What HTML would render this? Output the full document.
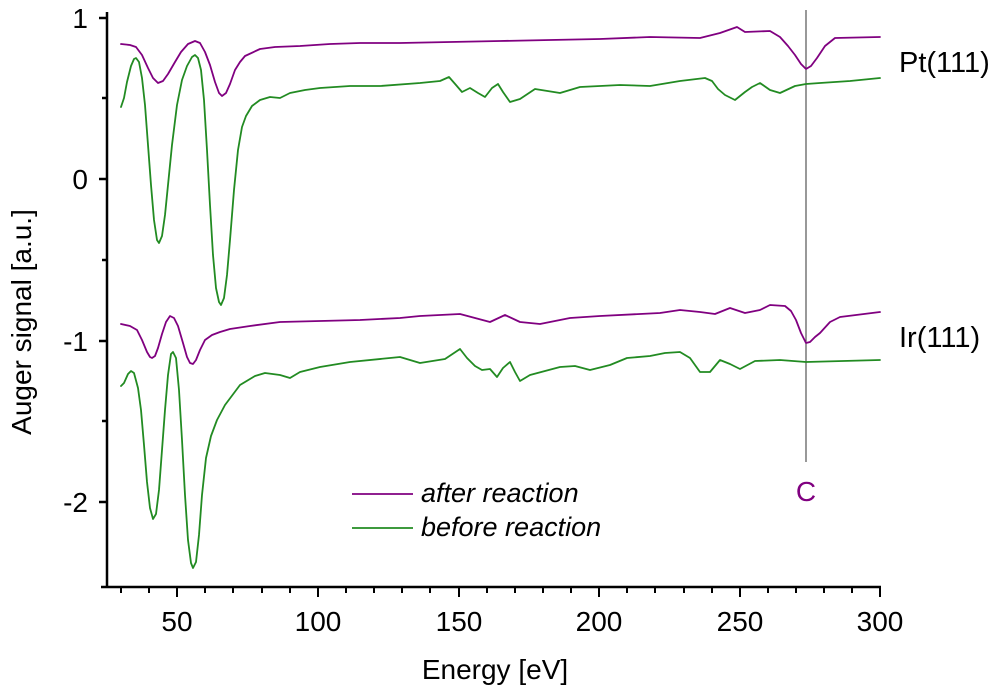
<!DOCTYPE html>
<html><head><meta charset="utf-8"><style>
body{margin:0;background:#fff;}
svg{display:block;font-family:"Liberation Sans",Arial,sans-serif;}
</style></head><body>
<svg width="1000" height="691" viewBox="0 0 1000 691">
<g stroke="#000" stroke-width="2.5" fill="none">
<line x1="107" y1="12" x2="107" y2="588"/>
<line x1="101" y1="587" x2="881" y2="587"/>
<line x1="99" y1="18" x2="107" y2="18"/><line x1="102" y1="98" x2="107" y2="98"/>
<line x1="99" y1="179" x2="107" y2="179"/><line x1="102" y1="260" x2="107" y2="260"/>
<line x1="99" y1="341" x2="107" y2="341"/><line x1="102" y1="421" x2="107" y2="421"/>
<line x1="99" y1="502" x2="107" y2="502"/>
</g>
<g stroke="#000" stroke-width="2">
<line x1="121" y1="587" x2="121" y2="593"/><line x1="149" y1="587" x2="149" y2="593"/>
<line x1="177" y1="587" x2="177" y2="597"/><line x1="205" y1="587" x2="205" y2="593"/>
<line x1="233" y1="587" x2="233" y2="593"/><line x1="262" y1="587" x2="262" y2="593"/>
<line x1="290" y1="587" x2="290" y2="593"/><line x1="318" y1="587" x2="318" y2="597"/>
<line x1="346" y1="587" x2="346" y2="593"/><line x1="374" y1="587" x2="374" y2="593"/>
<line x1="402" y1="587" x2="402" y2="593"/><line x1="430" y1="587" x2="430" y2="593"/>
<line x1="459" y1="587" x2="459" y2="597"/><line x1="487" y1="587" x2="487" y2="593"/>
<line x1="515" y1="587" x2="515" y2="593"/><line x1="543" y1="587" x2="543" y2="593"/>
<line x1="571" y1="587" x2="571" y2="593"/><line x1="599" y1="587" x2="599" y2="597"/>
<line x1="627" y1="587" x2="627" y2="593"/><line x1="655" y1="587" x2="655" y2="593"/>
<line x1="684" y1="587" x2="684" y2="593"/><line x1="712" y1="587" x2="712" y2="593"/>
<line x1="740" y1="587" x2="740" y2="597"/><line x1="768" y1="587" x2="768" y2="593"/>
<line x1="796" y1="587" x2="796" y2="593"/><line x1="824" y1="587" x2="824" y2="593"/>
<line x1="852" y1="587" x2="852" y2="593"/><line x1="880" y1="587" x2="880" y2="597"/>
</g>
<g font-size="28" fill="#000" text-anchor="middle">
<text x="177" y="631">50</text><text x="318" y="631">100</text><text x="459" y="631">150</text>
<text x="599" y="631">200</text><text x="740" y="631">250</text><text x="880" y="631">300</text>
<text x="495" y="679">Energy [eV]</text>
</g>
<g font-size="28" fill="#000" text-anchor="end">
<text x="88" y="28">1</text><text x="88" y="189">0</text><text x="88" y="351">-1</text><text x="88" y="512">-2</text>
</g>
<text transform="translate(31,322) rotate(-90)" font-size="28" text-anchor="middle">Auger signal [a.u.]</text>
<line x1="806" y1="10" x2="806" y2="462" stroke="#555" stroke-width="1.2"/>
<text x="806" y="501" font-size="28" fill="#800080" text-anchor="middle">C</text>
<text x="899" y="72" font-size="29">Pt(111)</text>
<text x="899" y="347" font-size="29">Ir(111)</text>
<g fill="none" stroke-width="1.8" stroke-linejoin="round" stroke-linecap="round">
<polyline stroke="#800080" points="121,44 130,45 136,47 142,55 148,68 153,78 158,83 163,81 168,74 175,62 181,52 188,44 195,41 200,43 205,52 210,65 215,82 219,93 222,96 226,93 230,84 235,70 240,62 245,56 260,49 275,47 300,46 330,44 360,43 400,43 450,42 500,41 550,40 600,39 650,37 700,38 720,33 737,27 745,32 770,31 780,37 788,46 795,55 801,64 806,69 811,66 817,58 825,46 835,38 880,37"/>
<polyline stroke="#228b22" points="121,107 124,98 127,82 131,66 134,59 136,58 139,62 142,78 145,105 148,145 151,185 154,220 157,240 159,243 162,236 165,215 168,185 172,145 177,105 182,80 187,66 192,57 195,55 198,58 201,70 204,100 207,150 210,205 213,255 216,288 219,302 221,305 224,298 227,275 230,240 234,190 238,150 242,127 246,116 252,106 260,100 270,97 280,98 290,93 305,90 320,88 350,86 380,86 420,83 440,81 449,77 456,85 462,92 470,88 478,93 485,97 492,88 498,84 503,92 510,102 520,99 535,89 560,93 580,87 620,85 650,86 680,81 705,78 712,81 718,89 725,95 735,100 745,92 752,87 760,83 770,90 780,93 795,86 806,84 820,83 850,81 880,78"/>
<polyline stroke="#800080" points="121,324 130,326 137,330 142,340 147,352 150,357 152,358 155,356 158,348 162,334 166,322 170,316 174,318 178,326 183,343 187,357 190,363 193,364 196,360 200,350 205,340 212,335 220,332 230,329 250,326 280,322 320,321 360,320 400,318 420,316 460,314 475,318 490,322 505,315 520,322 540,324 570,318 600,316 640,314 660,313 680,310 700,312 715,314 730,308 745,313 760,310 770,305 785,306 791,311 796,320 801,333 806,343 810,342 815,337 820,333 830,322 840,317 880,312"/>
<polyline stroke="#228b22" points="121,386 124,383 128,374 131,371 134,373 138,388 141,410 144,445 147,482 150,508 153,519 156,514 159,490 162,450 165,410 168,375 171,354 173,352 176,358 179,390 182,440 185,495 188,540 191,563 193,568 196,562 199,535 202,495 206,458 211,436 217,420 225,405 240,385 255,376 265,373 280,375 290,378 300,372 320,367 350,362 400,357 420,363 445,359 460,349 467,358 475,366 482,370 490,369 497,377 503,368 510,362 515,372 520,381 530,375 560,367 575,366 590,370 610,365 627,358 650,356 665,353 680,352 690,358 700,372 710,372 720,360 730,364 740,369 755,361 780,360 806,362 880,360"/>
</g>
<line x1="352" y1="494" x2="413" y2="494" stroke="#800080" stroke-width="1.8"/>
<line x1="352" y1="528" x2="413" y2="528" stroke="#228b22" stroke-width="1.8"/>
<g font-size="27" font-style="italic" fill="#000">
<text x="421" y="502">after reaction</text>
<text x="421" y="536">before reaction</text>
</g>
</svg>
</body></html>
